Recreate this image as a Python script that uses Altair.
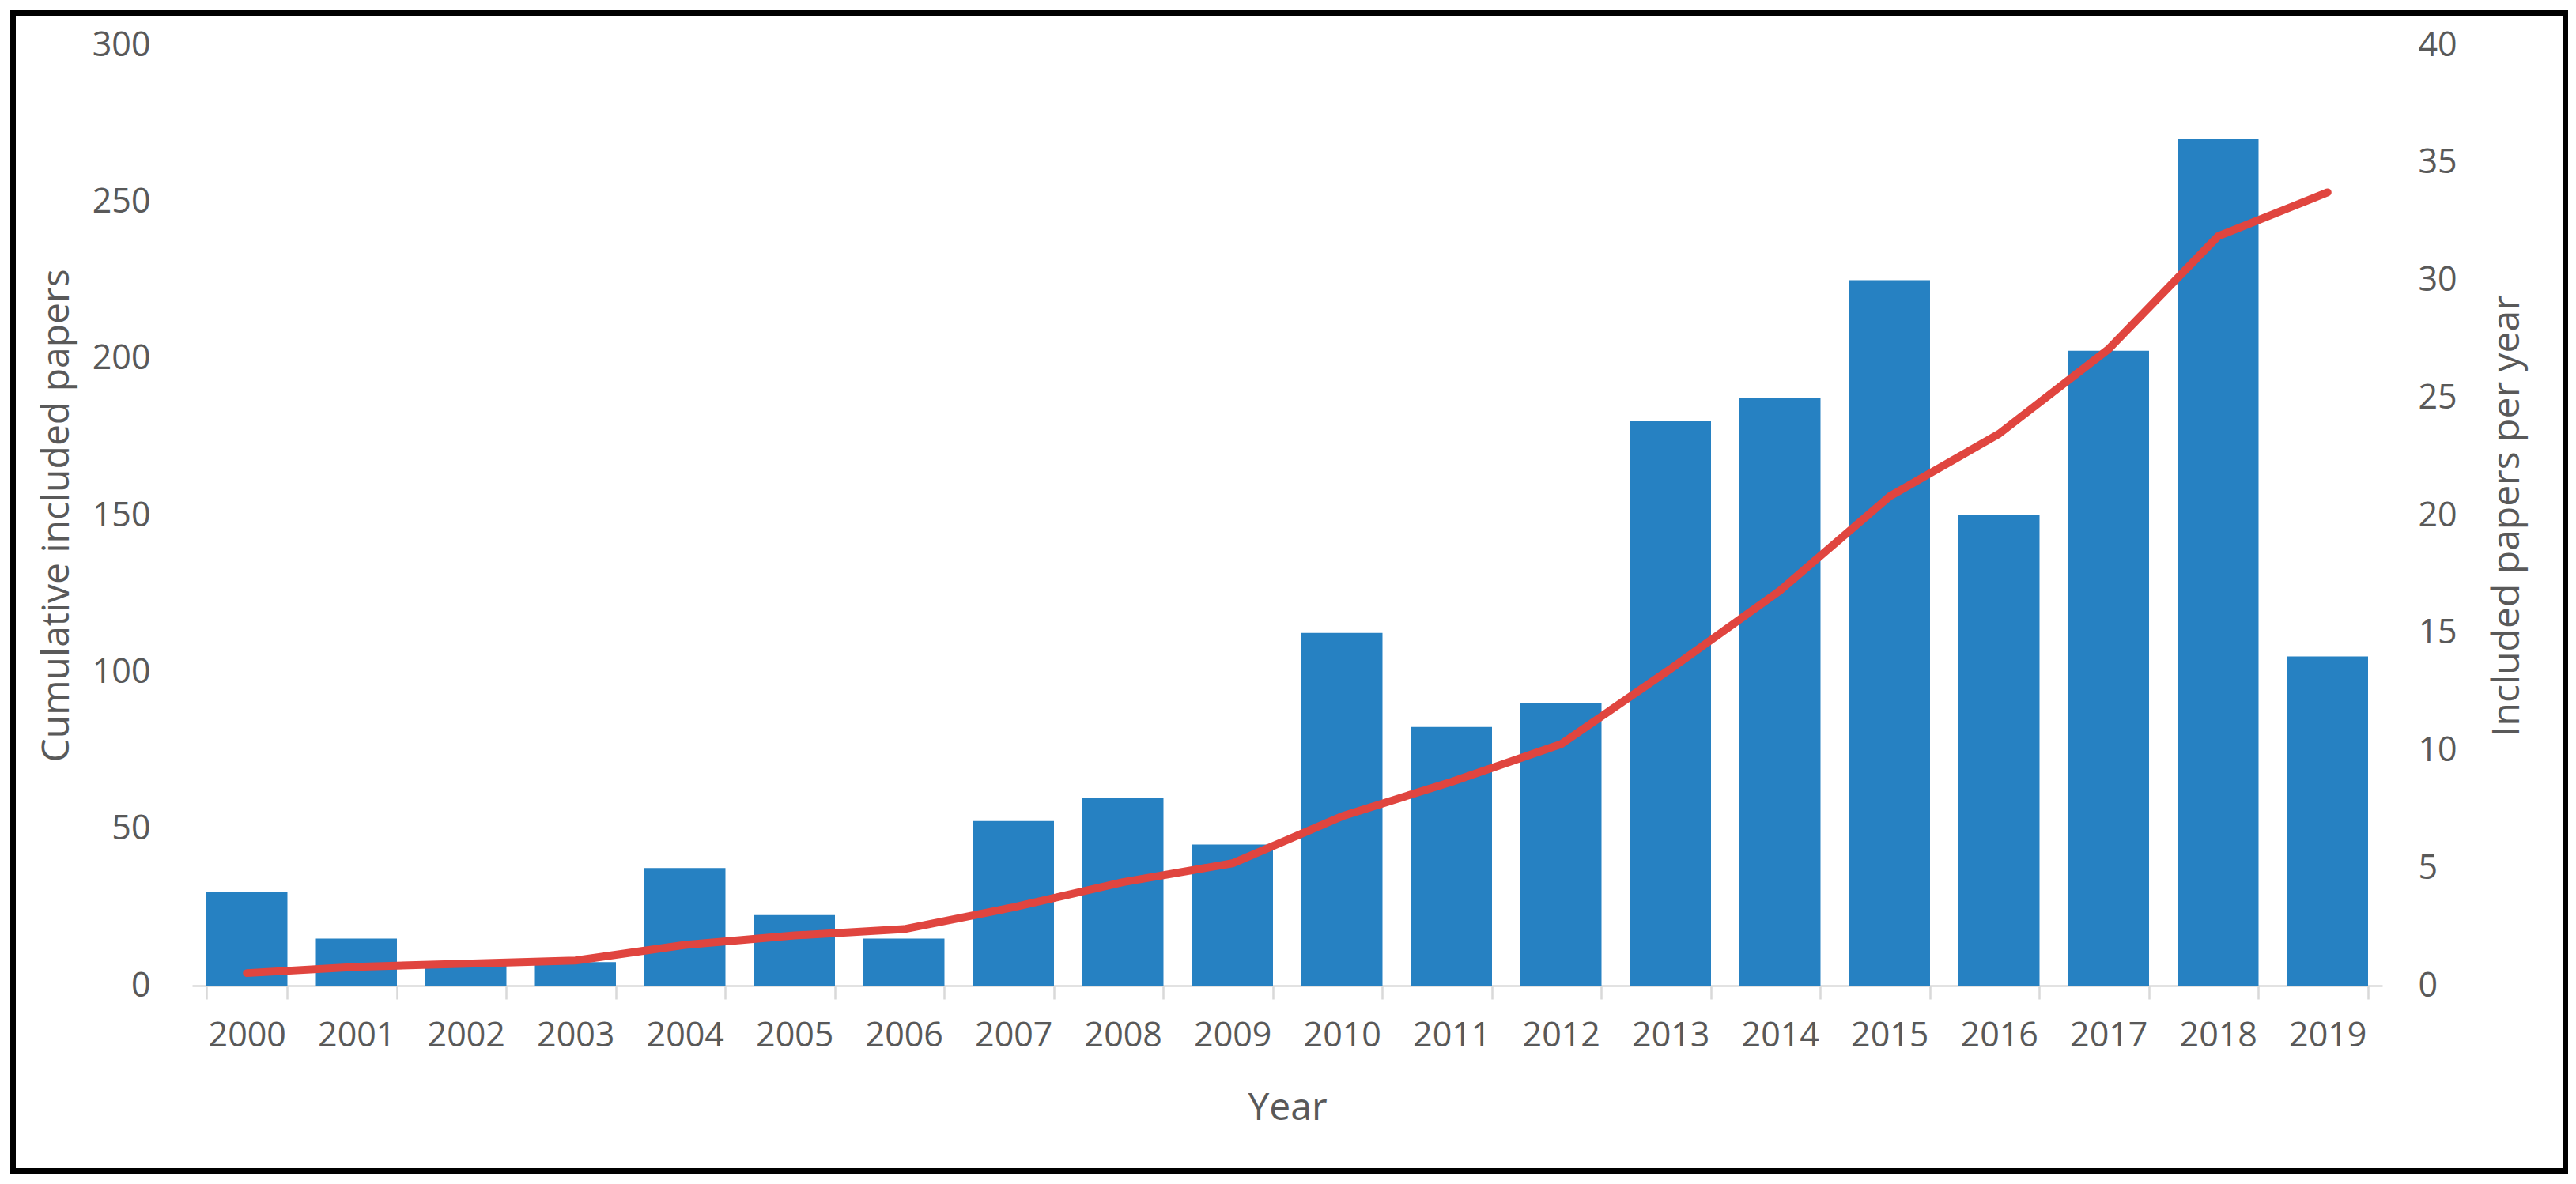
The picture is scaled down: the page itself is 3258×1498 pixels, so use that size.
import altair as alt
import pandas as pd

# ---- data ----
years = ["2000", "2001", "2002", "2003", "2004", "2005", "2006", "2007", "2008", "2009",
         "2010", "2011", "2012", "2013", "2014", "2015", "2016", "2017", "2018", "2019"]
per_year = [4, 2, 1, 1, 5, 3, 2, 7, 8, 6, 15, 11, 12, 24, 25, 30, 20, 27, 36, 14]
cumulative = [4, 6, 7, 8, 13, 16, 18, 25, 33, 39, 54, 65, 77, 101, 126, 156, 176, 203, 239, 253]
left_ticks = [0, 50, 100, 150, 200, 250, 300]
right_ticks = [0, 5, 10, 15, 20, 25, 30, 35, 40]

df = pd.DataFrame({"year": years, "per_year": per_year, "cumulative": cumulative})

TEXT = "#595959"
AXISLINE = "#D9D9D9"
BAR = "#2681C2"
LINE = "#E0453F"
FONT = "Open Sans"
W, H = 2770, 1190

x_enc = alt.X(
    "year:O",
    sort=years,
    scale=alt.Scale(paddingInner=0.26, paddingOuter=0.13),
    axis=alt.Axis(
        title="Year",
        labelAngle=0,
        tickBand="extent",
        domain=True,
        domainColor=AXISLINE,
        domainWidth=2.5,
        ticks=True,
        tickColor=AXISLINE,
        tickWidth=2.5,
        tickSize=17,
        labelPadding=25,
        titlePadding=46,
        grid=False,
    ),
)

bars = alt.Chart(df).mark_bar(color=BAR).encode(
    x=x_enc,
    y=alt.Y(
        "per_year:Q",
        scale=alt.Scale(domain=[0, 40], nice=False),
        axis=alt.Axis(
            orient="right",
            title="Included papers per year",
            values=right_ticks,
            domain=False,
            ticks=False,
            tickSize=0,
            grid=False,
            labelPadding=45,
            labelAlign="left",
            titleAngle=270,
            titleBaseline="top",
            titlePadding=40,
        ),
    ),
)

line = alt.Chart(df).mark_line(color=LINE, strokeWidth=10, strokeCap="round", strokeJoin="round").encode(
    x=x_enc,
    y=alt.Y(
        "cumulative:Q",
        scale=alt.Scale(domain=[0, 300], nice=False),
        axis=alt.Axis(
            orient="left",
            title="Cumulative included papers",
            values=left_ticks,
            domain=False,
            ticks=False,
            tickSize=0,
            grid=False,
            labelPadding=53,
            titlePadding=20,
        ),
    ),
)

frame_df = pd.DataFrame({"frame": [0]})
frame = alt.Chart(frame_df).mark_rect(
    fillOpacity=0, stroke="black", strokeWidth=7
).encode(
    x=alt.value(-226.5),
    x2=alt.value(W + 231.5),
    y=alt.value(-40.5),
    y2=alt.value(H + 234.5),
)

chart = (
    alt.layer(bars, line, frame)
    .resolve_scale(y="independent")
    .properties(width=W, height=H, padding={"left": 5, "top": 5, "right": 0, "bottom": 0}, background="white")
    .configure_view(strokeWidth=0)
    .configure_axis(
        labelFont=FONT,
        labelFontSize=43,
        labelColor=TEXT,
        titleFont=FONT,
        titleFontSize=48,
        titleFontWeight="normal",
        titleColor=TEXT,
    )
)

chart.save("out.html", embed_options={"renderer": "svg", "actions": False})
